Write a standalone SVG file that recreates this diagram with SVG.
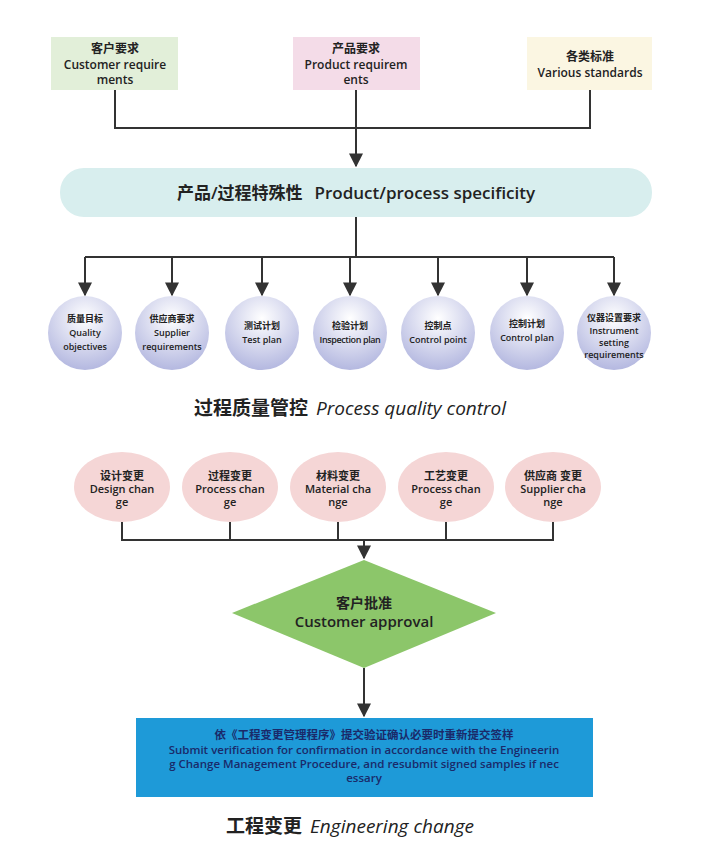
<svg xmlns="http://www.w3.org/2000/svg" width="719" height="860" viewBox="0 0 719 860">
<defs>
<radialGradient id="cg" cx="50%" cy="30%" r="70%"><stop offset="0" stop-color="#ffffff"/><stop offset="1" stop-color="#b4b8e0"/></radialGradient>
<marker id="ar" viewBox="0 0 10 10" refX="9" refY="5" markerWidth="7" markerHeight="7" orient="auto"><path d="M0,0L10,5L0,10z" fill="#333"/></marker>
</defs>
<style>
text{font-family:"Open Sans","Noto Sans CJK SC",sans-serif;fill:#222;text-anchor:middle;font-weight:600}
.s{font-size:12px}.e{font-size:11px}.t{font-size:9px}.b{font-size:11.5px;fill:#1a2a6a}.c{stroke:#333;stroke-width:2;fill:none}
.a{marker-end:url(#ar)}
</style>
<rect width="719" height="860" fill="#fff"/>
<g id="connectors">
<path class="c" d="M115,90V128H590V90M356,90V128"/><path class="c a" d="M356,128V166"/>
<path class="c" d="M356,217V257M85,257H614"/>
<path class="c a" d="M85,257V295"/><path class="c a" d="M172,257V295"/><path class="c a" d="M262,257V295"/><path class="c a" d="M350,257V295"/><path class="c a" d="M438,257V295"/><path class="c a" d="M527,257V295"/><path class="c a" d="M614,257V295"/>
<path class="c" d="M122,522V540H553V522M230,522V540M338,522V540M446,522V540"/><path class="c a" d="M364,540V558"/>
<path class="c a" d="M364,668V716"/>
</g>
<g id="n1"><rect x="51" y="37" width="127" height="53" fill="#e2efd9"/><text class="s" x="115" y="53">客户要求</text><text class="s" x="115" y="69">Customer require</text><text class="s" x="115" y="84">ments</text></g>
<g id="n2"><rect x="293" y="37" width="127" height="53" fill="#f4dce8"/><text class="s" x="356" y="53">产品要求</text><text class="s" x="356" y="69">Product requirem</text><text class="s" x="356" y="84">ents</text></g>
<g id="n3"><rect x="527" y="37" width="125" height="53" fill="#fbf6e2"/><text class="s" x="590" y="61">各类标准</text><text class="s" x="590" y="77">Various standards</text></g>
<g id="spec"><rect x="60" y="168" width="592" height="49" rx="24" fill="#d8eeee"/><text x="356" y="199" font-size="17"><tspan>产品/过程特殊性</tspan><tspan dx="12">Product/process specificity</tspan></text></g>
<g id="q1"><circle cx="85" cy="333" r="37" fill="url(#cg)"/><text class="t" x="85" y="322">质量目标</text><text class="t" x="85" y="336">Quality</text><text class="t" x="85" y="350">objectives</text></g>
<g id="q2"><circle cx="172" cy="333" r="37" fill="url(#cg)"/><text class="t" x="172" y="322">供应商要求</text><text class="t" x="172" y="336">Supplier</text><text class="t" x="172" y="350">requirements</text></g>
<g id="q3"><circle cx="262" cy="333" r="37" fill="url(#cg)"/><text class="t" x="262" y="329">测试计划</text><text class="t" x="262" y="343">Test plan</text></g>
<g id="q4"><circle cx="350" cy="333" r="37" fill="url(#cg)"/><text class="t" x="350" y="329">检验计划</text><text class="t" x="350" y="343" letter-spacing="-0.4">Inspection plan</text></g>
<g id="q5"><circle cx="438" cy="333" r="37" fill="url(#cg)"/><text class="t" x="438" y="329">控制点</text><text class="t" x="438" y="343">Control point</text></g>
<g id="q6"><circle cx="527" cy="333" r="37" fill="url(#cg)"/><text class="t" x="527" y="327">控制计划</text><text class="t" x="527" y="341">Control plan</text></g>
<g id="q7"><circle cx="614" cy="333" r="37" fill="url(#cg)"/><text class="t" x="614" y="321">仪器设置要求</text><text class="t" x="614" y="334" font-size="7.5">Instrument</text><text class="t" x="614" y="346" font-size="7.5">setting</text><text class="t" x="614" y="358" font-size="7.5">requirements</text></g>
<text x="350" y="415" font-size="19"><tspan font-weight="700">过程质量管控</tspan><tspan font-weight="400" font-style="italic" dx="8">Process quality control</tspan></text>
<g id="e1"><ellipse cx="122" cy="487" rx="48" ry="35" fill="#f5d6d6"/><text class="e" x="122" y="480">设计变更</text><text class="e" x="122" y="493">Design chan</text><text class="e" x="122" y="506">ge</text></g>
<g id="e2"><ellipse cx="230" cy="487" rx="48" ry="35" fill="#f5d6d6"/><text class="e" x="230" y="480">过程变更</text><text class="e" x="230" y="493">Process chan</text><text class="e" x="230" y="506">ge</text></g>
<g id="e3"><ellipse cx="338" cy="487" rx="48" ry="35" fill="#f5d6d6"/><text class="e" x="338" y="480">材料变更</text><text class="e" x="338" y="493">Material cha</text><text class="e" x="338" y="506">nge</text></g>
<g id="e4"><ellipse cx="446" cy="487" rx="48" ry="35" fill="#f5d6d6"/><text class="e" x="446" y="480">工艺变更</text><text class="e" x="446" y="493">Process chan</text><text class="e" x="446" y="506">ge</text></g>
<g id="e5"><ellipse cx="553" cy="487" rx="48" ry="35" fill="#f5d6d6"/><text class="e" x="553" y="480">供应商 变更</text><text class="e" x="553" y="493">Supplier cha</text><text class="e" x="553" y="506">nge</text></g>
<g id="approve"><polygon points="364,560 496,613 364,668 232,613" fill="#8cc66a"/><text x="364" y="608" font-size="14">客户批准</text><text x="364" y="627" font-size="15">Customer approval</text></g>
<g id="submit"><rect x="136" y="718" width="457" height="79" fill="#1e9ad8"/><text class="b" x="364" y="739">依《工程变更管理程序》提交验证确认必要时重新提交签样</text><text class="b" x="364" y="754">Submit verification for confirmation in accordance with the Engineerin</text><text class="b" x="364" y="768">g Change Management Procedure, and resubmit signed samples if nec</text><text class="b" x="364" y="782">essary</text></g>
<text x="350" y="833" font-size="19"><tspan font-weight="700">工程变更</tspan><tspan font-weight="400" font-style="italic" dx="8">Engineering change</tspan></text>
</svg>
